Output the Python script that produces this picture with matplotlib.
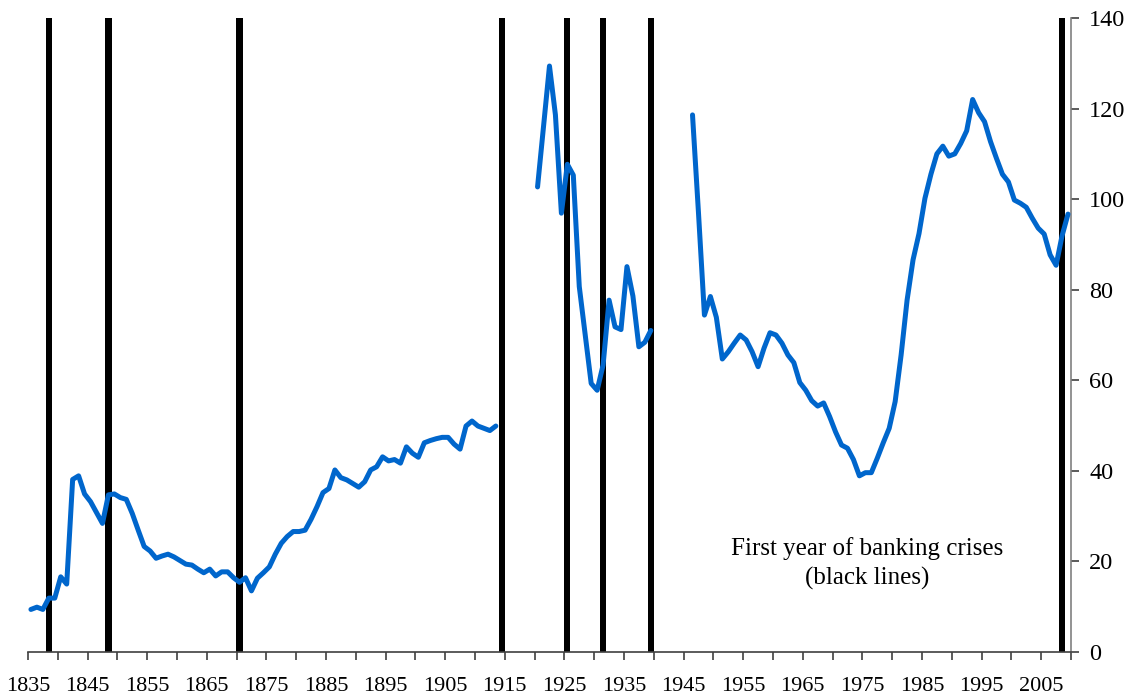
import numpy as np
import matplotlib
matplotlib.use('Agg')
import matplotlib.pyplot as plt

plt.rcParams['font.family'] = ['Liberation Serif', 'DejaVu Serif']

# Serie, em tres trechos com lacunas entre eles
anos_1 = np.arange(1835, 1914)
valores_1 = [9.4, 9.9, 9.4, 11.9, 11.9, 16.6, 15.0, 38.1, 38.9, 34.9,
             33.2, 30.8, 28.4, 34.7, 34.9, 34.1, 33.7, 30.6, 26.9, 23.3,
             22.3, 20.7, 21.2, 21.6, 21.0, 20.2, 19.4, 19.2, 18.3, 17.5,
             18.3, 16.8, 17.7, 17.7, 16.4, 15.4, 16.4, 13.5, 16.3, 17.5,
             18.8, 21.6, 24.0, 25.5, 26.6, 26.6, 26.9, 29.3, 32.1, 35.2,
             36.1, 40.2, 38.5, 38.0, 37.2, 36.4, 37.6, 40.2, 40.9, 43.1,
             42.2, 42.5, 41.7, 45.3, 43.9, 43.0, 46.2, 46.7, 47.1, 47.4,
             47.4, 45.9, 44.8, 49.9, 51.0, 49.9, 49.4, 48.9, 49.9]

anos_2 = np.arange(1920, 1940)
valores_2 = [102.7, 116.0, 129.4, 118.6, 96.9, 107.7, 105.3, 80.7, 70.0, 59.3,
             57.8, 63.4, 77.7, 71.8, 71.2, 85.1, 78.6, 67.4, 68.4, 71.0]

anos_3 = np.arange(1946, 2010)
valores_3 = [118.6, 97.0, 74.4, 78.5, 73.9, 64.7, 66.3, 68.2, 70.0, 68.9,
             66.3, 63.0, 67.1, 70.5, 70.0, 68.2, 65.6, 63.9, 59.5, 57.8,
             55.5, 54.3, 55.0, 52.0, 48.6, 45.7, 45.0, 42.5, 38.9, 39.6,
             39.6, 42.8, 46.2, 49.4, 55.3, 65.6, 77.7, 86.6, 92.4, 100.2,
             105.5, 110.0, 111.7, 109.5, 110.0, 112.3, 115.1, 122.0, 119.1, 117.1,
             112.7, 109.0, 105.5, 103.8, 99.8, 99.1, 98.2, 95.8, 93.6, 92.3,
             87.7, 85.4, 91.9, 96.7]

# Primeiro ano das crises bancarias
anos_crise = [1838, 1848, 1870, 1914, 1925, 1931, 1939, 2008]

rotulos_x = [str(a) if (a - 1835) % 10 == 0 else '' for a in range(1835, 2011, 5)]
ticks_y = [0, 20, 40, 60, 80, 100, 120, 140]

fig = plt.figure(figsize=(11.27, 6.98), dpi=100)
ax = fig.add_axes([0.0248, 0.0659, 0.9255, 0.9083])

# Barras pretas das crises
ax.bar(anos_crise, [140] * len(anos_crise), width=1.05, color='black', zorder=1)

azul = '#0066cc'
for anos, valores in [(anos_1, valores_1), (anos_2, valores_2), (anos_3, valores_3)]:
    ax.plot(anos, valores, color=azul, linewidth=3.6, solid_joinstyle='round',
            solid_capstyle='round', zorder=3)

ax.set_xlim(1834.5, 2009.5)
ax.set_ylim(0, 140)

ax.set_xticks(np.arange(1834.5, 2010, 5))
ax.set_xticklabels(rotulos_x, fontsize=16)
ax.tick_params(axis='x', direction='out', length=6, width=1.2, color='#404040', pad=12)

ax.yaxis.tick_right()
ax.set_yticks(ticks_y)
ax.set_yticklabels([str(v) for v in ticks_y], fontsize=17.5)
ax.tick_params(axis='y', direction='out', length=6, width=1.2, color='#404040', pad=7)

ax.spines['left'].set_visible(False)
ax.spines['top'].set_visible(False)
ax.spines['bottom'].set_color('#404040')
ax.spines['bottom'].set_linewidth(1.2)
ax.spines['right'].set_color('#808080')
ax.spines['right'].set_linewidth(1.2)

ax.text(1975.3, 19.5, 'First year of banking crises\n(black lines)', ha='center',
        va='center', fontsize=18, linespacing=1.4)

fig.savefig('out.png', dpi=100)
